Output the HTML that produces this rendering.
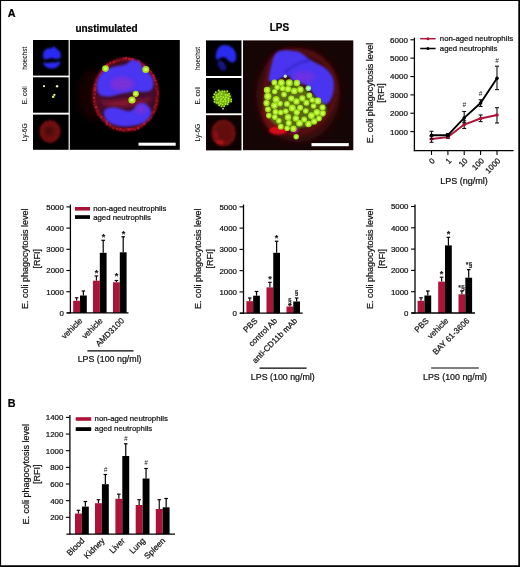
<!DOCTYPE html>
<html><head><meta charset="utf-8"><title>Figure</title>
<style>
html,body{margin:0;padding:0;background:#fff;}
body{width:520px;height:567px;overflow:hidden;}
svg{display:block;font-family:"Liberation Sans",Arial,Helvetica,sans-serif;}
</style></head><body>
<svg width="520" height="567" viewBox="0 0 520 567">
<defs>
<filter id="b1" x="-30%" y="-30%" width="160%" height="160%"><feGaussianBlur stdDeviation="1"/></filter>
<filter id="b2" x="-30%" y="-30%" width="160%" height="160%"><feGaussianBlur stdDeviation="2"/></filter>
<filter id="b3" x="-30%" y="-30%" width="160%" height="160%"><feGaussianBlur stdDeviation="3"/></filter>
<filter id="b05" x="-30%" y="-30%" width="160%" height="160%"><feGaussianBlur stdDeviation="0.6"/></filter>
<clipPath id="cm1"><rect x="69.8" y="40" width="110" height="109.8"/></clipPath>
<clipPath id="cm2"><rect x="243" y="40.4" width="110.3" height="109.8"/></clipPath>
</defs>
<rect x="0" y="0" width="520" height="567" fill="#fff"/>

<text x="7.8" y="17" font-size="10.8" text-anchor="start" font-weight="bold" fill="#000" stroke="#000" stroke-width="0.22">A</text>
<text x="7.8" y="406.6" font-size="10.8" text-anchor="start" font-weight="bold" fill="#000" stroke="#000" stroke-width="0.22">B</text>
<text x="106.5" y="31.5" font-size="10" text-anchor="middle" font-weight="bold" fill="#000" stroke="#000" stroke-width="0.22">unstimulated</text>
<text x="279.5" y="31.4" font-size="10" text-anchor="middle" font-weight="bold" fill="#000" stroke="#000" stroke-width="0.22">LPS</text>
<g id="micro1">
<rect x="33.00" y="40.00" width="35.60" height="35.60" fill="#000"/>
<rect x="33.00" y="77.30" width="35.60" height="35.40" fill="#000"/>
<rect x="33.00" y="114.60" width="35.60" height="35.20" fill="#000"/>
<rect x="69.80" y="40.00" width="110.00" height="109.80" fill="#000"/>
<g filter="url(#b1)">
<path d="M43 56 C43 50 47 47.5 51 48.5 C53 46 56 46.5 56.5 49 C60 50 61.5 54 60.5 58 C57 60 54 58.5 52 58 C49 58.5 46 60 43.5 59 Z" fill="#2a2cf5"/>
<path d="M43.5 62 C46 63.5 50 63 52 62 C54 63.5 57 62 60 61 C61 65 57 68.5 52 68.5 C47 68.5 43 66 43.5 62 Z" fill="#2a2cf5"/>
</g>
<g filter="url(#b05)" fill="#e8f5a0">
<circle cx="44" cy="86.2" r="1.1"/><circle cx="57.1" cy="86.3" r="1.2"/><circle cx="53.2" cy="96.8" r="1.3" fill="#d8f060"/><circle cx="54.4" cy="94.8" r="1.1"/>
</g>
<g filter="url(#b1)">
<ellipse cx="50" cy="131.6" rx="10.5" ry="11.3" fill="#6a0b10"/>
<ellipse cx="50" cy="131.6" rx="8.5" ry="9.3" fill="none" stroke="#8a1218" stroke-width="2.5" stroke-dasharray="2 2.5"/>
<ellipse cx="49" cy="131" rx="4" ry="4.5" fill="#4a080b"/>
</g>
<g clip-path="url(#cm1)">
<ellipse cx="92" cy="95" rx="14" ry="26" fill="#190405" filter="url(#b3)"/>
<ellipse cx="125.8" cy="94.6" rx="31.5" ry="35" fill="#420b2e" filter="url(#b2)"/>
<ellipse cx="125.8" cy="94.6" rx="31.7" ry="35.3" fill="none" stroke="#7a0e18" stroke-width="3.6" filter="url(#b1)"/>
<g filter="url(#b05)">
<circle cx="157.6" cy="94.0" r="1.2" fill="#8a0e1c"/>
<circle cx="156.5" cy="98.2" r="0.9" fill="#8a0e1c"/>
<circle cx="156.5" cy="100.9" r="1.6" fill="#8a0e1c"/>
<circle cx="156.2" cy="105.0" r="1.2" fill="#9a1220"/>
<circle cx="154.6" cy="107.3" r="1.5" fill="#8a0e1c"/>
<circle cx="153.8" cy="111.9" r="0.9" fill="#b01626"/>
<circle cx="151.6" cy="113.3" r="1.5" fill="#8a0e1c"/>
<circle cx="150.8" cy="117.7" r="1.2" fill="#8a0e1c"/>
<circle cx="148.8" cy="119.8" r="1.2" fill="#9a1220"/>
<circle cx="144.9" cy="121.8" r="1.0" fill="#9a1220"/>
<circle cx="144.0" cy="123.9" r="1.4" fill="#b81828"/>
<circle cx="141.2" cy="126.2" r="1.3" fill="#8a0e1c"/>
<circle cx="138.1" cy="128.0" r="1.4" fill="#b01626"/>
<circle cx="134.6" cy="129.5" r="1.4" fill="#9a1220"/>
<circle cx="131.5" cy="129.0" r="1.3" fill="#b01626"/>
<circle cx="128.5" cy="129.2" r="1.5" fill="#b81828"/>
<circle cx="126.2" cy="129.0" r="1.5" fill="#8a0e1c"/>
<circle cx="123.4" cy="130.4" r="1.2" fill="#9a1220"/>
<circle cx="120.5" cy="129.3" r="1.2" fill="#b01626"/>
<circle cx="117.4" cy="128.9" r="0.9" fill="#b81828"/>
<circle cx="113.3" cy="128.0" r="1.1" fill="#9a1220"/>
<circle cx="110.2" cy="124.9" r="1.0" fill="#b01626"/>
<circle cx="106.9" cy="124.2" r="1.1" fill="#b81828"/>
<circle cx="106.8" cy="121.6" r="1.5" fill="#b81828"/>
<circle cx="104.1" cy="119.3" r="1.5" fill="#8a0e1c"/>
<circle cx="101.3" cy="117.1" r="1.4" fill="#b01626"/>
<circle cx="98.6" cy="114.5" r="1.3" fill="#8a0e1c"/>
<circle cx="97.3" cy="111.2" r="1.6" fill="#8a0e1c"/>
<circle cx="96.1" cy="107.2" r="1.3" fill="#b01626"/>
<circle cx="94.4" cy="104.5" r="1.1" fill="#8a0e1c"/>
<circle cx="94.4" cy="101.3" r="0.9" fill="#b81828"/>
<circle cx="93.9" cy="98.2" r="1.1" fill="#b81828"/>
<circle cx="95.1" cy="94.1" r="0.9" fill="#b01626"/>
<circle cx="94.8" cy="90.2" r="1.2" fill="#b81828"/>
<circle cx="95.2" cy="88.5" r="1.4" fill="#b81828"/>
<circle cx="95.6" cy="84.8" r="1.4" fill="#b01626"/>
<circle cx="96.5" cy="80.0" r="1.0" fill="#9a1220"/>
<circle cx="98.4" cy="77.9" r="1.1" fill="#8a0e1c"/>
<circle cx="100.3" cy="75.2" r="1.3" fill="#b81828"/>
<circle cx="101.9" cy="72.3" r="1.5" fill="#9a1220"/>
<circle cx="102.5" cy="69.9" r="1.1" fill="#8a0e1c"/>
<circle cx="105.0" cy="67.2" r="0.9" fill="#9a1220"/>
<circle cx="107.5" cy="64.9" r="1.3" fill="#b81828"/>
<circle cx="110.3" cy="63.1" r="1.0" fill="#b81828"/>
<circle cx="113.9" cy="62.1" r="1.3" fill="#b81828"/>
<circle cx="116.5" cy="60.6" r="1.1" fill="#8a0e1c"/>
<circle cx="118.8" cy="60.4" r="1.0" fill="#8a0e1c"/>
<circle cx="123.5" cy="58.6" r="1.6" fill="#8a0e1c"/>
<circle cx="125.9" cy="58.3" r="1.4" fill="#b01626"/>
<circle cx="129.4" cy="58.9" r="1.4" fill="#b81828"/>
<circle cx="132.2" cy="59.2" r="1.5" fill="#b81828"/>
<circle cx="134.2" cy="61.1" r="0.9" fill="#9a1220"/>
<circle cx="138.9" cy="61.6" r="1.3" fill="#b01626"/>
<circle cx="140.4" cy="64.1" r="1.3" fill="#9a1220"/>
<circle cx="143.7" cy="65.4" r="1.2" fill="#b01626"/>
<circle cx="145.4" cy="67.5" r="1.5" fill="#8a0e1c"/>
<circle cx="148.0" cy="70.7" r="1.1" fill="#b01626"/>
<circle cx="150.8" cy="71.9" r="1.0" fill="#b81828"/>
<circle cx="153.1" cy="75.4" r="1.5" fill="#b01626"/>
<circle cx="153.9" cy="77.9" r="1.2" fill="#b81828"/>
<circle cx="155.1" cy="80.5" r="1.3" fill="#b01626"/>
<circle cx="156.6" cy="84.1" r="0.9" fill="#b01626"/>
<circle cx="156.1" cy="88.4" r="0.9" fill="#8a0e1c"/>
<circle cx="158.1" cy="92.1" r="1.0" fill="#8a0e1c"/>
</g>
<path d="M98 99 C104 103 120 100 131 98 C138 100 146 100 152 96 C150 104 140 104 130 106 C118 108 104 108 98 99 Z" fill="#8a1230" filter="url(#b2)"/>
<g filter="url(#b1)">
<path d="M96.8 88 C96 78 102 71 109 68 C116 66 122 66 127 64 C129 59 137 58.5 140 63 C143 68 150 72 152.8 79 C154.5 84 153.5 89 150 91 C144 93 138 91 133 91.5 C128 93 124 92.5 120 94 C113 96.5 106 97.5 101 95.5 C98 94 97 91 96.8 88 Z" fill="#4a34f2"/>
<path d="M104.2 111 C106 107.5 112 107 117 108 C123 109 127 112.5 131 111 C135 109 137 103 142 103 C147 103.5 151.5 108 151 113 C150 119 144 123.5 137 125 C129 127 119 127 112 124 C106 121 103 116 104.2 111 Z" fill="#4a34f2"/>
</g>
<ellipse cx="122" cy="84" rx="12" ry="7" fill="#8a2fd0" opacity="0.75" filter="url(#b2)"/>
<ellipse cx="141" cy="109" rx="5" ry="5" fill="#8a2fd0" opacity="0.7" filter="url(#b2)"/>
<g filter="url(#b05)">
<circle cx="105.5" cy="68.6" r="3.3" fill="#a6e01e"/><circle cx="105.5" cy="68.6" r="1.65" fill="#d6ff58"/>
<circle cx="145.8" cy="69.5" r="3.5" fill="#a6e01e"/><circle cx="145.8" cy="69.5" r="1.75" fill="#d6ff58"/>
<circle cx="135.8" cy="93.8" r="3.1" fill="#a6e01e"/><circle cx="135.8" cy="93.8" r="1.55" fill="#d6ff58"/>
<circle cx="132" cy="100" r="3.6" fill="#a6e01e"/><circle cx="132" cy="100" r="1.80" fill="#d6ff58"/>
</g>
</g>
<rect x="138.50" y="142.70" width="37.20" height="3.00" fill="#fff"/>
</g>
<text x="27" y="58.2" font-size="6.6" text-anchor="middle" font-weight="normal" fill="#111" stroke="#111" stroke-width="0.08" transform="rotate(-90 27 58.2)">hoechst</text>
<text x="199.8" y="58.5" font-size="6.6" text-anchor="middle" font-weight="normal" fill="#111" stroke="#111" stroke-width="0.08" transform="rotate(-90 199.8 58.5)">hoechst</text>
<text x="27" y="95.2" font-size="6.6" text-anchor="middle" font-weight="normal" fill="#111" stroke="#111" stroke-width="0.08" transform="rotate(-90 27 95.2)">E. coli</text>
<text x="199.8" y="95.5" font-size="6.6" text-anchor="middle" font-weight="normal" fill="#111" stroke="#111" stroke-width="0.08" transform="rotate(-90 199.8 95.5)">E. coli</text>
<text x="27" y="132.3" font-size="6.6" text-anchor="middle" font-weight="normal" fill="#111" stroke="#111" stroke-width="0.08" transform="rotate(-90 27 132.3)">Ly-6G</text>
<text x="199.8" y="132.60000000000002" font-size="6.6" text-anchor="middle" font-weight="normal" fill="#111" stroke="#111" stroke-width="0.08" transform="rotate(-90 199.8 132.60000000000002)">Ly-6G</text>
<g id="micro2">
<rect x="206.00" y="40.40" width="35.50" height="35.60" fill="#000"/>
<rect x="206.00" y="78.00" width="35.50" height="35.30" fill="#000"/>
<rect x="206.00" y="115.20" width="35.50" height="35.20" fill="#0c0202"/>
<rect x="243.00" y="40.40" width="110.30" height="109.80" fill="#160505"/>
<g filter="url(#b1)">
<path d="M217 62 C221 66 226 70 224 72 C220 70 217 66 217 62 Z" fill="#10127a"/>
<path d="M215.8 58.5 C215.3 52 218 46.5 222 45.3 C226 44.3 231.5 45.5 234.3 50 C236.8 54 236.8 59 234.5 62 C231 63.5 228.5 61 226.5 58.5 C224.5 56.5 222 57 219.5 58.5 C218 59.5 216.3 59.8 215.8 58.5 Z" fill="#2a2cf0"/>
<path d="M218 60 C221 60 224 62 226 66 C227 69 225 71 223 69 C220 66 218 63 218 60 Z" fill="#14168a"/>
</g>
<ellipse cx="222.3" cy="98.2" rx="8.6" ry="7.5" fill="#6fae18" filter="url(#b1)"/>
<g fill="#b4f02a">
<circle cx="220.6" cy="101.1" r="0.95"/>
<circle cx="220.8" cy="96.4" r="0.95"/>
<circle cx="216.6" cy="97.1" r="0.95"/>
<circle cx="228.7" cy="100.3" r="0.95"/>
<circle cx="224.9" cy="99.3" r="0.95"/>
<circle cx="214.5" cy="101.7" r="0.95"/>
<circle cx="215.8" cy="92.3" r="0.95"/>
<circle cx="225.6" cy="94.7" r="0.95"/>
<circle cx="219.2" cy="105.3" r="0.95"/>
<circle cx="225.4" cy="104.0" r="0.95"/>
<circle cx="218.5" cy="94.3" r="0.95"/>
<circle cx="217.3" cy="99.5" r="0.95"/>
<circle cx="224.5" cy="91.4" r="0.95"/>
<circle cx="222.6" cy="104.6" r="0.95"/>
<circle cx="213.4" cy="97.0" r="0.95"/>
<circle cx="221.6" cy="93.7" r="0.95"/>
<circle cx="219.8" cy="92.1" r="0.95"/>
<circle cx="227.3" cy="91.3" r="0.95"/>
<circle cx="214.6" cy="99.3" r="0.95"/>
<circle cx="216.4" cy="102.7" r="0.95"/>
<circle cx="225.6" cy="101.2" r="0.95"/>
<circle cx="225.9" cy="97.3" r="0.95"/>
<circle cx="228.5" cy="98.3" r="0.95"/>
<circle cx="229.9" cy="96.2" r="0.95"/>
<circle cx="229.1" cy="93.8" r="0.95"/>
<circle cx="228.4" cy="102.3" r="0.95"/>
<circle cx="223.3" cy="101.5" r="0.95"/>
<circle cx="231.2" cy="99.5" r="0.95"/>
<circle cx="218.7" cy="97.6" r="0.95"/>
<circle cx="221.3" cy="99.3" r="0.95"/>
<circle cx="227.6" cy="104.3" r="0.95"/>
<circle cx="218.4" cy="102.7" r="0.95"/>
<circle cx="214.4" cy="94.2" r="0.95"/>
<circle cx="227.7" cy="95.3" r="0.95"/>
<circle cx="224.1" cy="106.2" r="0.95"/>
<circle cx="231.1" cy="101.5" r="0.95"/>
<circle cx="218.7" cy="90.5" r="0.95"/>
<circle cx="220.6" cy="103.7" r="0.95"/>
<circle cx="221.5" cy="106.4" r="0.95"/>
<circle cx="216.3" cy="95.1" r="0.95"/>
<circle cx="222.3" cy="91.4" r="0.95"/>
<circle cx="223.3" cy="97.3" r="0.95"/>
<circle cx="223" cy="108.7" r="0.9" fill="#c8e8a0"/>
</g>
<g filter="url(#b1)">
<ellipse cx="223.5" cy="133" rx="12.3" ry="13.6" fill="#620b0d"/>
<ellipse cx="223.5" cy="133" rx="10" ry="11.3" fill="none" stroke="#7c1012" stroke-width="2.4" stroke-dasharray="3 2.5"/>
<ellipse cx="216" cy="136" rx="2.2" ry="5" fill="#8c1014"/>
<ellipse cx="219.8" cy="142.3" rx="4.2" ry="2.2" fill="#a81418"/>
</g>
<g clip-path="url(#cm2)">
<ellipse cx="298" cy="95" rx="42" ry="47" fill="#3a0a0c" filter="url(#b3)"/>
<path d="M266 84 C262 100 266 120 276 128 C288 136 304 134 316 126 C328 118 336 104 336 88 C336 70 322 56 306 52 C290 48 274 52 270 62 Z" fill="none" stroke="#8a1018" stroke-width="3.5" opacity="0.6" filter="url(#b2)"/>
<ellipse cx="272" cy="118" rx="9" ry="16" fill="#7a0c14" opacity="0.8" filter="url(#b2)" transform="rotate(-25 272 118)"/>
<ellipse cx="278" cy="130.5" rx="9" ry="4" fill="#d8101c" filter="url(#b1)"/>
<ellipse cx="294.5" cy="129.5" rx="4" ry="3" fill="#a018b0" filter="url(#b1)"/>
<path d="M268.5 80 C270 70 272 60 274.5 55 C277 50.5 283 50 290 50.5 C296 51 301 52 304 55 C308 59 314 62 320 65 C328 69 333 75 333.8 82 C334.5 89 333 96 330 101 C327.5 105 323.5 105.5 320 102 C315 98 312 90 307 85.5 C303 83 298 83.5 294 82 C291 80 290.5 76 288 75.5 C284 75.5 281 78 277 80.5 C273 82.5 269.5 83 268.5 80 Z" fill="#4a34f0" filter="url(#b1)"/>
<ellipse cx="304" cy="77" rx="11" ry="5.5" fill="#7a2fe0" opacity="0.75" filter="url(#b2)"/>
<path d="M284.5 73 C290 67.5 297 63.5 303 62 C306 61.3 308 60.5 309 59.5" fill="none" stroke="#2a1aa8" stroke-width="1.8" opacity="0.7" filter="url(#b1)"/>
<path d="M264 100 C264 90 270 83 280 81.5 C290 80 300 84 306 90 C312 96 320 100 326 106 C329 112 322 120 314 124 C304 129 288 130 278 126 C268 121 264 110 264 100 Z" fill="#5a6814" filter="url(#b1)"/>
<g filter="url(#b05)">
<circle cx="292.3" cy="108.1" r="3.5" fill="#9fe01c"/><circle cx="292.3" cy="108.1" r="1.9" fill="#ccff50"/>
<circle cx="274.4" cy="105.6" r="3.3" fill="#9fe01c"/><circle cx="274.4" cy="105.6" r="1.8" fill="#ccff50"/>
<circle cx="305.8" cy="111.0" r="2.8" fill="#9fe01c"/><circle cx="305.8" cy="111.0" r="1.6" fill="#ccff50"/>
<circle cx="274.7" cy="91.6" r="2.7" fill="#9fe01c"/><circle cx="274.7" cy="91.6" r="1.5" fill="#ccff50"/>
<circle cx="296.8" cy="112.3" r="3.1" fill="#9fe01c"/><circle cx="296.8" cy="112.3" r="1.7" fill="#ccff50"/>
<circle cx="306.4" cy="102.8" r="3.0" fill="#9fe01c"/><circle cx="306.4" cy="102.8" r="1.6" fill="#ccff50"/>
<circle cx="309.4" cy="95.4" r="2.9" fill="#9fe01c"/><circle cx="309.4" cy="95.4" r="1.6" fill="#ccff50"/>
<circle cx="281.4" cy="82.7" r="3.4" fill="#9fe01c"/><circle cx="281.4" cy="82.7" r="1.9" fill="#ccff50"/>
<circle cx="288.8" cy="123.0" r="3.0" fill="#9fe01c"/><circle cx="288.8" cy="123.0" r="1.7" fill="#ccff50"/>
<circle cx="304.2" cy="119.5" r="2.9" fill="#9fe01c"/><circle cx="304.2" cy="119.5" r="1.6" fill="#ccff50"/>
<circle cx="267.8" cy="96.3" r="3.6" fill="#9fe01c"/><circle cx="267.8" cy="96.3" r="2.0" fill="#ccff50"/>
<circle cx="274.8" cy="117.1" r="2.8" fill="#9fe01c"/><circle cx="274.8" cy="117.1" r="1.5" fill="#ccff50"/>
<circle cx="276.1" cy="99.5" r="3.5" fill="#9fe01c"/><circle cx="276.1" cy="99.5" r="1.9" fill="#ccff50"/>
<circle cx="284.0" cy="94.4" r="2.8" fill="#9fe01c"/><circle cx="284.0" cy="94.4" r="1.5" fill="#ccff50"/>
<circle cx="268.0" cy="109.3" r="2.9" fill="#9fe01c"/><circle cx="268.0" cy="109.3" r="1.6" fill="#ccff50"/>
<circle cx="302.3" cy="98.3" r="3.1" fill="#9fe01c"/><circle cx="302.3" cy="98.3" r="1.7" fill="#ccff50"/>
<circle cx="299.5" cy="123.3" r="3.3" fill="#9fe01c"/><circle cx="299.5" cy="123.3" r="1.8" fill="#ccff50"/>
<circle cx="280.8" cy="126.7" r="2.9" fill="#9fe01c"/><circle cx="280.8" cy="126.7" r="1.6" fill="#ccff50"/>
<circle cx="311.4" cy="115.6" r="3.4" fill="#9fe01c"/><circle cx="311.4" cy="115.6" r="1.9" fill="#ccff50"/>
<circle cx="288.0" cy="117.2" r="3.2" fill="#9fe01c"/><circle cx="288.0" cy="117.2" r="1.8" fill="#ccff50"/>
<circle cx="294.2" cy="91.0" r="3.3" fill="#9fe01c"/><circle cx="294.2" cy="91.0" r="1.8" fill="#ccff50"/>
<circle cx="322.7" cy="113.3" r="3.1" fill="#9fe01c"/><circle cx="322.7" cy="113.3" r="1.7" fill="#ccff50"/>
<circle cx="316.8" cy="112.4" r="3.3" fill="#9fe01c"/><circle cx="316.8" cy="112.4" r="1.8" fill="#ccff50"/>
<circle cx="300.4" cy="89.5" r="3.2" fill="#9fe01c"/><circle cx="300.4" cy="89.5" r="1.8" fill="#ccff50"/>
<circle cx="280.0" cy="103.6" r="2.8" fill="#9fe01c"/><circle cx="280.0" cy="103.6" r="1.5" fill="#ccff50"/>
<circle cx="285.8" cy="111.2" r="2.8" fill="#9fe01c"/><circle cx="285.8" cy="111.2" r="1.5" fill="#ccff50"/>
<circle cx="291.3" cy="98.5" r="3.1" fill="#9fe01c"/><circle cx="291.3" cy="98.5" r="1.7" fill="#ccff50"/>
<circle cx="317.8" cy="100.9" r="3.4" fill="#9fe01c"/><circle cx="317.8" cy="100.9" r="1.9" fill="#ccff50"/>
<circle cx="295.9" cy="118.4" r="3.2" fill="#9fe01c"/><circle cx="295.9" cy="118.4" r="1.7" fill="#ccff50"/>
<circle cx="296.5" cy="101.4" r="3.2" fill="#9fe01c"/><circle cx="296.5" cy="101.4" r="1.8" fill="#ccff50"/>
<circle cx="314.1" cy="121.4" r="3.1" fill="#9fe01c"/><circle cx="314.1" cy="121.4" r="1.7" fill="#ccff50"/>
<circle cx="287.0" cy="103.9" r="2.9" fill="#9fe01c"/><circle cx="287.0" cy="103.9" r="1.6" fill="#ccff50"/>
<circle cx="267.1" cy="90.1" r="3.3" fill="#9fe01c"/><circle cx="267.1" cy="90.1" r="1.8" fill="#ccff50"/>
<circle cx="288.0" cy="89.1" r="3.2" fill="#9fe01c"/><circle cx="288.0" cy="89.1" r="1.8" fill="#ccff50"/>
<circle cx="293.4" cy="128.7" r="3.2" fill="#9fe01c"/><circle cx="293.4" cy="128.7" r="1.8" fill="#ccff50"/>
<circle cx="277.2" cy="87.2" r="2.8" fill="#9fe01c"/><circle cx="277.2" cy="87.2" r="1.5" fill="#ccff50"/>
<circle cx="289.3" cy="82.8" r="3.5" fill="#9fe01c"/><circle cx="289.3" cy="82.8" r="1.9" fill="#ccff50"/>
<circle cx="322.5" cy="107.5" r="3.0" fill="#9fe01c"/><circle cx="322.5" cy="107.5" r="1.7" fill="#ccff50"/>
<circle cx="275.5" cy="111.9" r="2.9" fill="#9fe01c"/><circle cx="275.5" cy="111.9" r="1.6" fill="#ccff50"/>
<circle cx="278.8" cy="120.8" r="2.8" fill="#9fe01c"/><circle cx="278.8" cy="120.8" r="1.5" fill="#ccff50"/>
<circle cx="308.5" cy="124.0" r="3.2" fill="#9fe01c"/><circle cx="308.5" cy="124.0" r="1.8" fill="#ccff50"/>
<circle cx="313.6" cy="106.0" r="2.7" fill="#9fe01c"/><circle cx="313.6" cy="106.0" r="1.5" fill="#ccff50"/>
<circle cx="268.8" cy="115.6" r="2.8" fill="#9fe01c"/><circle cx="268.8" cy="115.6" r="1.5" fill="#ccff50"/>
<circle cx="280.7" cy="112.5" r="2.8" fill="#9fe01c"/><circle cx="280.7" cy="112.5" r="1.5" fill="#ccff50"/>
<circle cx="266.5" cy="103.0" r="3.1" fill="#9fe01c"/><circle cx="266.5" cy="103.0" r="1.7" fill="#ccff50"/>
<circle cx="300.1" cy="107.7" r="3.0" fill="#9fe01c"/><circle cx="300.1" cy="107.7" r="1.6" fill="#ccff50"/>
<circle cx="296.9" cy="83.0" r="3.2" fill="#9fe01c"/><circle cx="296.9" cy="83.0" r="1.7" fill="#ccff50"/>
<circle cx="282.6" cy="88.5" r="2.8" fill="#9fe01c"/><circle cx="282.6" cy="88.5" r="1.5" fill="#ccff50"/>
<circle cx="287.1" cy="128.3" r="2.8" fill="#9fe01c"/><circle cx="287.1" cy="128.3" r="1.6" fill="#ccff50"/>
<circle cx="274.4" cy="82.5" r="2.9" fill="#9fe01c"/><circle cx="274.4" cy="82.5" r="1.6" fill="#ccff50"/>
<circle cx="319.0" cy="118.4" r="2.8" fill="#9fe01c"/><circle cx="319.0" cy="118.4" r="1.6" fill="#ccff50"/>
<circle cx="312.2" cy="100.0" r="2.8" fill="#9fe01c"/><circle cx="312.2" cy="100.0" r="1.5" fill="#ccff50"/>
<circle cx="296.2" cy="136.8" r="2.7" fill="#9fe01c"/><circle cx="296.2" cy="136.8" r="1.4" fill="#ccff50"/>
<circle cx="308.3" cy="88.3" r="2.8" fill="#7fe08a"/><circle cx="308.3" cy="88.3" r="1.4" fill="#c8ffd0"/>
<circle cx="285.3" cy="76.3" r="1.7" fill="#b8e8c0"/>
</g>
</g>
<rect x="311.50" y="143.10" width="37.30" height="3.10" fill="#fff"/>
</g>
<g id="linechart">
<text x="372.9" y="93" font-size="9" text-anchor="middle" font-weight="normal" fill="#111" stroke="#111" stroke-width="0.22" transform="rotate(-90 372.9 93)">E. coli phagocytosis level</text>
<text x="383.9" y="93" font-size="9" text-anchor="middle" font-weight="normal" fill="#111" stroke="#111" stroke-width="0.22" transform="rotate(-90 383.9 93)">[RFI]</text>
<line x1="414.4" y1="37.7" x2="414.4" y2="151.2" stroke="#000" stroke-width="1.3" stroke-linecap="butt"/>
<line x1="413.79999999999995" y1="150.6" x2="513.6" y2="150.6" stroke="#000" stroke-width="1.3" stroke-linecap="butt"/>
<line x1="410.4" y1="131.6" x2="414.4" y2="131.6" stroke="#000" stroke-width="1.1" stroke-linecap="butt"/>
<text x="407.9" y="134.5" font-size="8" text-anchor="end" font-weight="normal" fill="#111" stroke="#111" stroke-width="0.22">1000</text>
<line x1="410.4" y1="113.24" x2="414.4" y2="113.24" stroke="#000" stroke-width="1.1" stroke-linecap="butt"/>
<text x="407.9" y="116.14" font-size="8" text-anchor="end" font-weight="normal" fill="#111" stroke="#111" stroke-width="0.22">2000</text>
<line x1="410.4" y1="94.88" x2="414.4" y2="94.88" stroke="#000" stroke-width="1.1" stroke-linecap="butt"/>
<text x="407.9" y="97.78" font-size="8" text-anchor="end" font-weight="normal" fill="#111" stroke="#111" stroke-width="0.22">3000</text>
<line x1="410.4" y1="76.52" x2="414.4" y2="76.52" stroke="#000" stroke-width="1.1" stroke-linecap="butt"/>
<text x="407.9" y="79.42" font-size="8" text-anchor="end" font-weight="normal" fill="#111" stroke="#111" stroke-width="0.22">4000</text>
<line x1="410.4" y1="58.16" x2="414.4" y2="58.16" stroke="#000" stroke-width="1.1" stroke-linecap="butt"/>
<text x="407.9" y="61.059999999999995" font-size="8" text-anchor="end" font-weight="normal" fill="#111" stroke="#111" stroke-width="0.22">5000</text>
<line x1="410.4" y1="39.8" x2="414.4" y2="39.8" stroke="#000" stroke-width="1.1" stroke-linecap="butt"/>
<text x="407.9" y="42.699999999999996" font-size="8" text-anchor="end" font-weight="normal" fill="#111" stroke="#111" stroke-width="0.22">6000</text>
<line x1="431.5" y1="150.6" x2="431.5" y2="154.9" stroke="#000" stroke-width="1.1" stroke-linecap="butt"/>
<text x="435.5" y="161.29999999999998" font-size="8" text-anchor="end" font-weight="normal" fill="#111" stroke="#111" stroke-width="0.22" transform="rotate(-45 435.5 161.29999999999998)">0</text>
<line x1="447.9" y1="150.6" x2="447.9" y2="154.9" stroke="#000" stroke-width="1.1" stroke-linecap="butt"/>
<text x="451.9" y="161.29999999999998" font-size="8" text-anchor="end" font-weight="normal" fill="#111" stroke="#111" stroke-width="0.22" transform="rotate(-45 451.9 161.29999999999998)">1</text>
<line x1="464.2" y1="150.6" x2="464.2" y2="154.9" stroke="#000" stroke-width="1.1" stroke-linecap="butt"/>
<text x="468.2" y="161.29999999999998" font-size="8" text-anchor="end" font-weight="normal" fill="#111" stroke="#111" stroke-width="0.22" transform="rotate(-45 468.2 161.29999999999998)">10</text>
<line x1="480.6" y1="150.6" x2="480.6" y2="154.9" stroke="#000" stroke-width="1.1" stroke-linecap="butt"/>
<text x="484.6" y="161.29999999999998" font-size="8" text-anchor="end" font-weight="normal" fill="#111" stroke="#111" stroke-width="0.22" transform="rotate(-45 484.6 161.29999999999998)">100</text>
<line x1="497" y1="150.6" x2="497" y2="154.9" stroke="#000" stroke-width="1.1" stroke-linecap="butt"/>
<text x="501" y="161.29999999999998" font-size="8" text-anchor="end" font-weight="normal" fill="#111" stroke="#111" stroke-width="0.22" transform="rotate(-45 501 161.29999999999998)">1000</text>
<line x1="431.5" y1="136.2" x2="431.5" y2="142.3" stroke="#111" stroke-width="1.1" stroke-linecap="butt"/>
<line x1="429.5" y1="136.2" x2="433.5" y2="136.2" stroke="#111" stroke-width="1.1" stroke-linecap="butt"/>
<line x1="429.5" y1="142.3" x2="433.5" y2="142.3" stroke="#111" stroke-width="1.1" stroke-linecap="butt"/>
<line x1="447.9" y1="135.8" x2="447.9" y2="138.4" stroke="#111" stroke-width="1.1" stroke-linecap="butt"/>
<line x1="445.9" y1="135.8" x2="449.9" y2="135.8" stroke="#111" stroke-width="1.1" stroke-linecap="butt"/>
<line x1="445.9" y1="138.4" x2="449.9" y2="138.4" stroke="#111" stroke-width="1.1" stroke-linecap="butt"/>
<line x1="464.2" y1="120.8" x2="464.2" y2="128.5" stroke="#111" stroke-width="1.1" stroke-linecap="butt"/>
<line x1="462.2" y1="120.8" x2="466.2" y2="120.8" stroke="#111" stroke-width="1.1" stroke-linecap="butt"/>
<line x1="462.2" y1="128.5" x2="466.2" y2="128.5" stroke="#111" stroke-width="1.1" stroke-linecap="butt"/>
<line x1="480.6" y1="115" x2="480.6" y2="121.6" stroke="#111" stroke-width="1.1" stroke-linecap="butt"/>
<line x1="478.6" y1="115" x2="482.6" y2="115" stroke="#111" stroke-width="1.1" stroke-linecap="butt"/>
<line x1="478.6" y1="121.6" x2="482.6" y2="121.6" stroke="#111" stroke-width="1.1" stroke-linecap="butt"/>
<line x1="497" y1="107.7" x2="497" y2="123" stroke="#111" stroke-width="1.1" stroke-linecap="butt"/>
<line x1="495.0" y1="107.7" x2="499.0" y2="107.7" stroke="#111" stroke-width="1.1" stroke-linecap="butt"/>
<line x1="495.0" y1="123" x2="499.0" y2="123" stroke="#111" stroke-width="1.1" stroke-linecap="butt"/>
<polyline fill="none" stroke="#ad1338" stroke-width="1.9" stroke-linejoin="round" points="431.5,139 447.9,137.1 464.2,124.6 480.6,118.5 497,115"/>
<circle cx="431.5" cy="139" r="1.8" fill="#ad1338"/>
<circle cx="447.9" cy="137.1" r="1.8" fill="#ad1338"/>
<circle cx="464.2" cy="124.6" r="1.8" fill="#ad1338"/>
<circle cx="480.6" cy="118.5" r="1.8" fill="#ad1338"/>
<circle cx="497" cy="115" r="1.8" fill="#ad1338"/>
<line x1="431.5" y1="131.3" x2="431.5" y2="139" stroke="#111" stroke-width="1.1" stroke-linecap="butt"/>
<line x1="429.5" y1="131.3" x2="433.5" y2="131.3" stroke="#111" stroke-width="1.1" stroke-linecap="butt"/>
<line x1="429.5" y1="139" x2="433.5" y2="139" stroke="#111" stroke-width="1.1" stroke-linecap="butt"/>
<line x1="447.9" y1="133.6" x2="447.9" y2="136.8" stroke="#111" stroke-width="1.1" stroke-linecap="butt"/>
<line x1="445.9" y1="133.6" x2="449.9" y2="133.6" stroke="#111" stroke-width="1.1" stroke-linecap="butt"/>
<line x1="445.9" y1="136.8" x2="449.9" y2="136.8" stroke="#111" stroke-width="1.1" stroke-linecap="butt"/>
<line x1="464.2" y1="111.5" x2="464.2" y2="122.7" stroke="#111" stroke-width="1.1" stroke-linecap="butt"/>
<line x1="462.2" y1="111.5" x2="466.2" y2="111.5" stroke="#111" stroke-width="1.1" stroke-linecap="butt"/>
<line x1="462.2" y1="122.7" x2="466.2" y2="122.7" stroke="#111" stroke-width="1.1" stroke-linecap="butt"/>
<line x1="480.6" y1="99.8" x2="480.6" y2="106.5" stroke="#111" stroke-width="1.1" stroke-linecap="butt"/>
<line x1="478.6" y1="99.8" x2="482.6" y2="99.8" stroke="#111" stroke-width="1.1" stroke-linecap="butt"/>
<line x1="478.6" y1="106.5" x2="482.6" y2="106.5" stroke="#111" stroke-width="1.1" stroke-linecap="butt"/>
<line x1="497" y1="66.2" x2="497" y2="89.6" stroke="#111" stroke-width="1.1" stroke-linecap="butt"/>
<line x1="495.0" y1="66.2" x2="499.0" y2="66.2" stroke="#111" stroke-width="1.1" stroke-linecap="butt"/>
<line x1="495.0" y1="89.6" x2="499.0" y2="89.6" stroke="#111" stroke-width="1.1" stroke-linecap="butt"/>
<polyline fill="none" stroke="#000" stroke-width="1.9" stroke-linejoin="round" points="431.5,135.2 447.9,135.2 464.2,117.9 480.6,103 497,78.3"/>
<circle cx="431.5" cy="135.2" r="1.8" fill="#000"/>
<circle cx="447.9" cy="135.2" r="1.8" fill="#000"/>
<circle cx="464.2" cy="117.9" r="1.8" fill="#000"/>
<circle cx="480.6" cy="103" r="1.8" fill="#000"/>
<circle cx="497" cy="78.3" r="1.8" fill="#000"/>
<text x="464.2" y="106.6" font-size="6.4" text-anchor="middle" font-weight="normal" fill="#222" stroke="#222" stroke-width="0" font-style="italic">#</text>
<text x="480.6" y="95.6" font-size="6.4" text-anchor="middle" font-weight="normal" fill="#222" stroke="#222" stroke-width="0" font-style="italic">#</text>
<text x="497" y="62.6" font-size="6.4" text-anchor="middle" font-weight="normal" fill="#222" stroke="#222" stroke-width="0" font-style="italic">#</text>
<line x1="420.2" y1="38.7" x2="435.6" y2="38.7" stroke="#ad1338" stroke-width="1.5" stroke-linecap="butt"/>
<circle cx="427.9" cy="38.7" r="1.5" fill="#ad1338"/>
<line x1="420.2" y1="48.5" x2="435.6" y2="48.5" stroke="#000" stroke-width="1.5" stroke-linecap="butt"/>
<circle cx="427.9" cy="48.5" r="1.5" fill="#000"/>
<text x="439.8" y="40.9" font-size="7.8" text-anchor="start" font-weight="normal" fill="#111" stroke="#111" stroke-width="0.22">non-aged neutrophils</text>
<text x="439.8" y="50.5" font-size="7.8" text-anchor="start" font-weight="normal" fill="#111" stroke="#111" stroke-width="0.22">aged neutrophils</text>
<text x="464" y="183.6" font-size="9" text-anchor="middle" font-weight="normal" fill="#111" stroke="#111" stroke-width="0.22">LPS (ng/ml)</text>
</g>
<g id="bar1">
<text x="27.8" y="258.7" font-size="9" text-anchor="middle" font-weight="normal" fill="#111" stroke="#111" stroke-width="0.22" transform="rotate(-90 27.8 258.7)">E. coli phagocytosis level</text>
<text x="39.9" y="258.7" font-size="9" text-anchor="middle" font-weight="normal" fill="#111" stroke="#111" stroke-width="0.22" transform="rotate(-90 39.9 258.7)">[RFI]</text>
<line x1="76.60000000000001" y1="297.8" x2="76.60000000000001" y2="300.8" stroke="#1a0508" stroke-width="1.2" stroke-linecap="butt"/>
<line x1="74.80000000000001" y1="297.8" x2="78.4" y2="297.8" stroke="#1a0508" stroke-width="1.2" stroke-linecap="butt"/>
<rect x="73.20" y="300.80" width="6.80" height="12.10" fill="#ad1338"/>
<line x1="83.4" y1="291" x2="83.4" y2="295.5" stroke="#000" stroke-width="1.2" stroke-linecap="butt"/>
<line x1="81.60000000000001" y1="291" x2="85.2" y2="291" stroke="#000" stroke-width="1.2" stroke-linecap="butt"/>
<rect x="80.00" y="295.50" width="6.80" height="17.40" fill="#000"/>
<line x1="96.4" y1="275.9" x2="96.4" y2="280.7" stroke="#1a0508" stroke-width="1.2" stroke-linecap="butt"/>
<line x1="94.60000000000001" y1="275.9" x2="98.2" y2="275.9" stroke="#1a0508" stroke-width="1.2" stroke-linecap="butt"/>
<rect x="93.00" y="280.70" width="6.80" height="32.20" fill="#ad1338"/>
<line x1="103.2" y1="240.3" x2="103.2" y2="252.8" stroke="#000" stroke-width="1.2" stroke-linecap="butt"/>
<line x1="101.4" y1="240.3" x2="105.0" y2="240.3" stroke="#000" stroke-width="1.2" stroke-linecap="butt"/>
<rect x="99.80" y="252.80" width="6.80" height="60.10" fill="#000"/>
<line x1="116.4" y1="280.5" x2="116.4" y2="282.3" stroke="#1a0508" stroke-width="1.2" stroke-linecap="butt"/>
<line x1="114.60000000000001" y1="280.5" x2="118.2" y2="280.5" stroke="#1a0508" stroke-width="1.2" stroke-linecap="butt"/>
<rect x="113.00" y="282.30" width="6.80" height="30.60" fill="#ad1338"/>
<line x1="123.2" y1="236.8" x2="123.2" y2="252.3" stroke="#000" stroke-width="1.2" stroke-linecap="butt"/>
<line x1="121.4" y1="236.8" x2="125.0" y2="236.8" stroke="#000" stroke-width="1.2" stroke-linecap="butt"/>
<rect x="119.80" y="252.30" width="6.80" height="60.60" fill="#000"/>
<line x1="70.4" y1="204.6" x2="70.4" y2="313.5" stroke="#000" stroke-width="1.3" stroke-linecap="butt"/>
<line x1="66.9" y1="312.9" x2="128.5" y2="312.9" stroke="#000" stroke-width="1.3" stroke-linecap="butt"/>
<line x1="66.4" y1="206.89999999999998" x2="70.4" y2="206.89999999999998" stroke="#000" stroke-width="1.1" stroke-linecap="butt"/>
<text x="63.900000000000006" y="209.79999999999998" font-size="7.9" text-anchor="end" font-weight="normal" fill="#111" stroke="#111" stroke-width="0.22">5000</text>
<line x1="66.4" y1="228.09999999999997" x2="70.4" y2="228.09999999999997" stroke="#000" stroke-width="1.1" stroke-linecap="butt"/>
<text x="63.900000000000006" y="230.99999999999997" font-size="7.9" text-anchor="end" font-weight="normal" fill="#111" stroke="#111" stroke-width="0.22">4000</text>
<line x1="66.4" y1="249.29999999999998" x2="70.4" y2="249.29999999999998" stroke="#000" stroke-width="1.1" stroke-linecap="butt"/>
<text x="63.900000000000006" y="252.2" font-size="7.9" text-anchor="end" font-weight="normal" fill="#111" stroke="#111" stroke-width="0.22">3000</text>
<line x1="66.4" y1="270.5" x2="70.4" y2="270.5" stroke="#000" stroke-width="1.1" stroke-linecap="butt"/>
<text x="63.900000000000006" y="273.4" font-size="7.9" text-anchor="end" font-weight="normal" fill="#111" stroke="#111" stroke-width="0.22">2000</text>
<line x1="66.4" y1="291.7" x2="70.4" y2="291.7" stroke="#000" stroke-width="1.1" stroke-linecap="butt"/>
<text x="63.900000000000006" y="294.59999999999997" font-size="7.9" text-anchor="end" font-weight="normal" fill="#111" stroke="#111" stroke-width="0.22">1000</text>
<line x1="66.4" y1="312.9" x2="70.4" y2="312.9" stroke="#000" stroke-width="1.1" stroke-linecap="butt"/>
<text x="63.900000000000006" y="315.79999999999995" font-size="7.9" text-anchor="end" font-weight="normal" fill="#111" stroke="#111" stroke-width="0.22">0</text>
<text x="82.9" y="321.3" font-size="8.2" text-anchor="end" font-weight="normal" fill="#111" stroke="#111" stroke-width="0.22" transform="rotate(-45 82.9 321.3)">vehicle</text>
<text x="103.2" y="321.3" font-size="8.2" text-anchor="end" font-weight="normal" fill="#111" stroke="#111" stroke-width="0.22" transform="rotate(-45 103.2 321.3)">vehicle</text>
<text x="124.7" y="321.3" font-size="8.2" text-anchor="end" font-weight="normal" fill="#111" stroke="#111" stroke-width="0.22" transform="rotate(-45 124.7 321.3)">AMD3100</text>
<text x="96.5" y="275.5" font-size="9" text-anchor="middle" font-weight="bold" fill="#111" stroke="#111" stroke-width="0.1">*</text>
<text x="103.4" y="239.7" font-size="9" text-anchor="middle" font-weight="bold" fill="#111" stroke="#111" stroke-width="0.1">*</text>
<text x="116.5" y="279.4" font-size="9" text-anchor="middle" font-weight="bold" fill="#111" stroke="#111" stroke-width="0.1">*</text>
<text x="123.4" y="236.7" font-size="9" text-anchor="middle" font-weight="bold" fill="#111" stroke="#111" stroke-width="0.1">*</text>
<rect x="75.00" y="207.00" width="15.00" height="3.60" fill="#ad1338"/>
<rect x="75.00" y="215.20" width="15.00" height="3.70" fill="#000"/>
<text x="93.2" y="210.8" font-size="7.8" text-anchor="start" font-weight="normal" fill="#111" stroke="#111" stroke-width="0.22">non-aged neutrophils</text>
<text x="93.2" y="219.5" font-size="7.8" text-anchor="start" font-weight="normal" fill="#111" stroke="#111" stroke-width="0.22">aged neutrophils</text>
<line x1="87.4" y1="350.8" x2="133.5" y2="350.8" stroke="#000" stroke-width="1.2" stroke-linecap="butt"/>
<text x="109.6" y="361.9" font-size="8.85" text-anchor="middle" font-weight="normal" fill="#111" stroke="#111" stroke-width="0.22">LPS (100 ng/ml)</text>
</g>
<g id="bar2">
<text x="201.1" y="258.7" font-size="9" text-anchor="middle" font-weight="normal" fill="#111" stroke="#111" stroke-width="0.22" transform="rotate(-90 201.1 258.7)">E. coli phagocytosis level</text>
<text x="213.3" y="258.7" font-size="9" text-anchor="middle" font-weight="normal" fill="#111" stroke="#111" stroke-width="0.22" transform="rotate(-90 213.3 258.7)">[RFI]</text>
<line x1="249.775" y1="298" x2="249.775" y2="301.2" stroke="#1a0508" stroke-width="1.2" stroke-linecap="butt"/>
<line x1="247.975" y1="298" x2="251.57500000000002" y2="298" stroke="#1a0508" stroke-width="1.2" stroke-linecap="butt"/>
<rect x="246.40" y="301.20" width="6.75" height="12.00" fill="#ad1338"/>
<line x1="256.525" y1="291.5" x2="256.525" y2="295.7" stroke="#000" stroke-width="1.2" stroke-linecap="butt"/>
<line x1="254.72499999999997" y1="291.5" x2="258.325" y2="291.5" stroke="#000" stroke-width="1.2" stroke-linecap="butt"/>
<rect x="253.15" y="295.70" width="6.75" height="17.50" fill="#000"/>
<line x1="269.875" y1="282.3" x2="269.875" y2="287.4" stroke="#1a0508" stroke-width="1.2" stroke-linecap="butt"/>
<line x1="268.075" y1="282.3" x2="271.675" y2="282.3" stroke="#1a0508" stroke-width="1.2" stroke-linecap="butt"/>
<rect x="266.50" y="287.40" width="6.75" height="25.80" fill="#ad1338"/>
<line x1="276.625" y1="241.2" x2="276.625" y2="252.8" stroke="#000" stroke-width="1.2" stroke-linecap="butt"/>
<line x1="274.825" y1="241.2" x2="278.425" y2="241.2" stroke="#000" stroke-width="1.2" stroke-linecap="butt"/>
<rect x="273.25" y="252.80" width="6.75" height="60.40" fill="#000"/>
<line x1="289.875" y1="304.7" x2="289.875" y2="306.5" stroke="#1a0508" stroke-width="1.2" stroke-linecap="butt"/>
<line x1="288.075" y1="304.7" x2="291.675" y2="304.7" stroke="#1a0508" stroke-width="1.2" stroke-linecap="butt"/>
<rect x="286.50" y="306.50" width="6.75" height="6.70" fill="#ad1338"/>
<line x1="296.625" y1="298" x2="296.625" y2="301.5" stroke="#000" stroke-width="1.2" stroke-linecap="butt"/>
<line x1="294.825" y1="298" x2="298.425" y2="298" stroke="#000" stroke-width="1.2" stroke-linecap="butt"/>
<rect x="293.25" y="301.50" width="6.75" height="11.70" fill="#000"/>
<line x1="243.5" y1="204.6" x2="243.5" y2="313.8" stroke="#000" stroke-width="1.3" stroke-linecap="butt"/>
<line x1="240.0" y1="313.2" x2="302.7" y2="313.2" stroke="#000" stroke-width="1.3" stroke-linecap="butt"/>
<line x1="239.5" y1="206.85" x2="243.5" y2="206.85" stroke="#000" stroke-width="1.1" stroke-linecap="butt"/>
<text x="237.0" y="209.75" font-size="7.9" text-anchor="end" font-weight="normal" fill="#111" stroke="#111" stroke-width="0.22">5000</text>
<line x1="239.5" y1="228.12" x2="243.5" y2="228.12" stroke="#000" stroke-width="1.1" stroke-linecap="butt"/>
<text x="237.0" y="231.02" font-size="7.9" text-anchor="end" font-weight="normal" fill="#111" stroke="#111" stroke-width="0.22">4000</text>
<line x1="239.5" y1="249.39" x2="243.5" y2="249.39" stroke="#000" stroke-width="1.1" stroke-linecap="butt"/>
<text x="237.0" y="252.29" font-size="7.9" text-anchor="end" font-weight="normal" fill="#111" stroke="#111" stroke-width="0.22">3000</text>
<line x1="239.5" y1="270.65999999999997" x2="243.5" y2="270.65999999999997" stroke="#000" stroke-width="1.1" stroke-linecap="butt"/>
<text x="237.0" y="273.55999999999995" font-size="7.9" text-anchor="end" font-weight="normal" fill="#111" stroke="#111" stroke-width="0.22">2000</text>
<line x1="239.5" y1="291.93" x2="243.5" y2="291.93" stroke="#000" stroke-width="1.1" stroke-linecap="butt"/>
<text x="237.0" y="294.83" font-size="7.9" text-anchor="end" font-weight="normal" fill="#111" stroke="#111" stroke-width="0.22">1000</text>
<line x1="239.5" y1="313.2" x2="243.5" y2="313.2" stroke="#000" stroke-width="1.1" stroke-linecap="butt"/>
<text x="237.0" y="316.09999999999997" font-size="7.9" text-anchor="end" font-weight="normal" fill="#111" stroke="#111" stroke-width="0.22">0</text>
<text x="258.1" y="321.3" font-size="8.2" text-anchor="end" font-weight="normal" fill="#111" stroke="#111" stroke-width="0.22" transform="rotate(-45 258.1 321.3)">PBS</text>
<text x="277.7" y="321.3" font-size="8.2" text-anchor="end" font-weight="normal" fill="#111" stroke="#111" stroke-width="0.22" transform="rotate(-45 277.7 321.3)">control Ab</text>
<text x="297.8" y="321.3" font-size="8.2" text-anchor="end" font-weight="normal" fill="#111" stroke="#111" stroke-width="0.22" transform="rotate(-45 297.8 321.3)">anti-CD11b mAb</text>
<text x="269.9" y="282" font-size="9" text-anchor="middle" font-weight="bold" fill="#111" stroke="#111" stroke-width="0.1">*</text>
<text x="276.6" y="240.5" font-size="9" text-anchor="middle" font-weight="bold" fill="#111" stroke="#111" stroke-width="0.1">*</text>
<text x="289.9" y="303.3" font-size="6.5" text-anchor="middle" font-weight="normal" fill="#111" stroke="#111" stroke-width="0.22">§</text>
<text x="296.6" y="295" font-size="6.5" text-anchor="middle" font-weight="normal" fill="#111" stroke="#111" stroke-width="0.22">§</text>
<line x1="259.5" y1="368.2" x2="306.6" y2="368.2" stroke="#000" stroke-width="1.2" stroke-linecap="butt"/>
<text x="282.8" y="379.7" font-size="8.85" text-anchor="middle" font-weight="normal" fill="#111" stroke="#111" stroke-width="0.22">LPS (100 ng/ml)</text>
</g>
<g id="bar3">
<text x="373.3" y="258.7" font-size="9" text-anchor="middle" font-weight="normal" fill="#111" stroke="#111" stroke-width="0.22" transform="rotate(-90 373.3 258.7)">E. coli phagocytosis level</text>
<text x="385.5" y="258.7" font-size="9" text-anchor="middle" font-weight="normal" fill="#111" stroke="#111" stroke-width="0.22" transform="rotate(-90 385.5 258.7)">[RFI]</text>
<line x1="421.0" y1="297.8" x2="421.0" y2="300.8" stroke="#1a0508" stroke-width="1.2" stroke-linecap="butt"/>
<line x1="419.2" y1="297.8" x2="422.8" y2="297.8" stroke="#1a0508" stroke-width="1.2" stroke-linecap="butt"/>
<rect x="417.60" y="300.80" width="6.80" height="12.20" fill="#ad1338"/>
<line x1="427.8" y1="291" x2="427.8" y2="295.5" stroke="#000" stroke-width="1.2" stroke-linecap="butt"/>
<line x1="426.0" y1="291" x2="429.6" y2="291" stroke="#000" stroke-width="1.2" stroke-linecap="butt"/>
<rect x="424.40" y="295.50" width="6.80" height="17.50" fill="#000"/>
<line x1="441.59999999999997" y1="277.2" x2="441.59999999999997" y2="281.6" stroke="#1a0508" stroke-width="1.2" stroke-linecap="butt"/>
<line x1="439.79999999999995" y1="277.2" x2="443.4" y2="277.2" stroke="#1a0508" stroke-width="1.2" stroke-linecap="butt"/>
<rect x="438.20" y="281.60" width="6.80" height="31.40" fill="#ad1338"/>
<line x1="448.4" y1="237.3" x2="448.4" y2="245.4" stroke="#000" stroke-width="1.2" stroke-linecap="butt"/>
<line x1="446.59999999999997" y1="237.3" x2="450.2" y2="237.3" stroke="#000" stroke-width="1.2" stroke-linecap="butt"/>
<rect x="445.00" y="245.40" width="6.80" height="67.60" fill="#000"/>
<line x1="461.9" y1="291" x2="461.9" y2="294.3" stroke="#1a0508" stroke-width="1.2" stroke-linecap="butt"/>
<line x1="460.09999999999997" y1="291" x2="463.7" y2="291" stroke="#1a0508" stroke-width="1.2" stroke-linecap="butt"/>
<rect x="458.50" y="294.30" width="6.80" height="18.70" fill="#ad1338"/>
<line x1="468.7" y1="269.6" x2="468.7" y2="277.7" stroke="#000" stroke-width="1.2" stroke-linecap="butt"/>
<line x1="466.9" y1="269.6" x2="470.5" y2="269.6" stroke="#000" stroke-width="1.2" stroke-linecap="butt"/>
<rect x="465.30" y="277.70" width="6.80" height="35.30" fill="#000"/>
<line x1="415" y1="204.6" x2="415" y2="313.6" stroke="#000" stroke-width="1.3" stroke-linecap="butt"/>
<line x1="411.5" y1="313" x2="475" y2="313" stroke="#000" stroke-width="1.3" stroke-linecap="butt"/>
<line x1="411" y1="206.5" x2="415" y2="206.5" stroke="#000" stroke-width="1.1" stroke-linecap="butt"/>
<text x="408.5" y="209.4" font-size="7.9" text-anchor="end" font-weight="normal" fill="#111" stroke="#111" stroke-width="0.22">5000</text>
<line x1="411" y1="227.8" x2="415" y2="227.8" stroke="#000" stroke-width="1.1" stroke-linecap="butt"/>
<text x="408.5" y="230.70000000000002" font-size="7.9" text-anchor="end" font-weight="normal" fill="#111" stroke="#111" stroke-width="0.22">4000</text>
<line x1="411" y1="249.1" x2="415" y2="249.1" stroke="#000" stroke-width="1.1" stroke-linecap="butt"/>
<text x="408.5" y="252.0" font-size="7.9" text-anchor="end" font-weight="normal" fill="#111" stroke="#111" stroke-width="0.22">3000</text>
<line x1="411" y1="270.4" x2="415" y2="270.4" stroke="#000" stroke-width="1.1" stroke-linecap="butt"/>
<text x="408.5" y="273.29999999999995" font-size="7.9" text-anchor="end" font-weight="normal" fill="#111" stroke="#111" stroke-width="0.22">2000</text>
<line x1="411" y1="291.7" x2="415" y2="291.7" stroke="#000" stroke-width="1.1" stroke-linecap="butt"/>
<text x="408.5" y="294.59999999999997" font-size="7.9" text-anchor="end" font-weight="normal" fill="#111" stroke="#111" stroke-width="0.22">1000</text>
<line x1="411" y1="313.0" x2="415" y2="313.0" stroke="#000" stroke-width="1.1" stroke-linecap="butt"/>
<text x="408.5" y="315.9" font-size="7.9" text-anchor="end" font-weight="normal" fill="#111" stroke="#111" stroke-width="0.22">0</text>
<text x="429.3" y="321.3" font-size="8.2" text-anchor="end" font-weight="normal" fill="#111" stroke="#111" stroke-width="0.22" transform="rotate(-45 429.3 321.3)">PBS</text>
<text x="448.9" y="321.3" font-size="8.2" text-anchor="end" font-weight="normal" fill="#111" stroke="#111" stroke-width="0.22" transform="rotate(-45 448.9 321.3)">vehicle</text>
<text x="469.9" y="321.3" font-size="8.2" text-anchor="end" font-weight="normal" fill="#111" stroke="#111" stroke-width="0.22" transform="rotate(-45 469.9 321.3)">BAY 61-3606</text>
<text x="441.6" y="277" font-size="9" text-anchor="middle" font-weight="bold" fill="#111" stroke="#111" stroke-width="0.1">*</text>
<text x="448.4" y="237" font-size="9" text-anchor="middle" font-weight="bold" fill="#111" stroke="#111" stroke-width="0.1">*</text>
<text x="461.5" y="290" font-size="7" text-anchor="middle" font-weight="normal" fill="#111" stroke="#111" stroke-width="0.22">*§</text>
<text x="469" y="267" font-size="7" text-anchor="middle" font-weight="normal" fill="#111" stroke="#111" stroke-width="0.22">*§</text>
<line x1="431.2" y1="368" x2="478.8" y2="368" stroke="#000" stroke-width="1.2" stroke-linecap="butt"/>
<text x="455" y="380" font-size="8.85" text-anchor="middle" font-weight="normal" fill="#111" stroke="#111" stroke-width="0.22">LPS (100 ng/ml)</text>
</g>
<g id="barB">
<text x="28.6" y="474.3" font-size="9" text-anchor="middle" font-weight="normal" fill="#111" stroke="#111" stroke-width="0.22" transform="rotate(-90 28.6 474.3)">E. coli phagocytosis level</text>
<text x="40.4" y="474.3" font-size="9" text-anchor="middle" font-weight="normal" fill="#111" stroke="#111" stroke-width="0.22" transform="rotate(-90 40.4 474.3)">[RFI]</text>
<line x1="78.45" y1="510.3" x2="78.45" y2="513.5" stroke="#1a0508" stroke-width="1.2" stroke-linecap="butt"/>
<line x1="76.65" y1="510.3" x2="80.25" y2="510.3" stroke="#1a0508" stroke-width="1.2" stroke-linecap="butt"/>
<rect x="75.00" y="513.50" width="6.90" height="20.60" fill="#ad1338"/>
<line x1="85.35" y1="501.5" x2="85.35" y2="506.6" stroke="#000" stroke-width="1.2" stroke-linecap="butt"/>
<line x1="83.55" y1="501.5" x2="87.14999999999999" y2="501.5" stroke="#000" stroke-width="1.2" stroke-linecap="butt"/>
<rect x="81.90" y="506.60" width="6.90" height="27.50" fill="#000"/>
<line x1="98.45" y1="499.7" x2="98.45" y2="503.2" stroke="#1a0508" stroke-width="1.2" stroke-linecap="butt"/>
<line x1="96.65" y1="499.7" x2="100.25" y2="499.7" stroke="#1a0508" stroke-width="1.2" stroke-linecap="butt"/>
<rect x="95.00" y="503.20" width="6.90" height="30.90" fill="#ad1338"/>
<line x1="105.35" y1="474.5" x2="105.35" y2="484.2" stroke="#000" stroke-width="1.2" stroke-linecap="butt"/>
<line x1="103.55" y1="474.5" x2="107.14999999999999" y2="474.5" stroke="#000" stroke-width="1.2" stroke-linecap="butt"/>
<rect x="101.90" y="484.20" width="6.90" height="49.90" fill="#000"/>
<line x1="118.85000000000001" y1="494.2" x2="118.85000000000001" y2="498.8" stroke="#1a0508" stroke-width="1.2" stroke-linecap="butt"/>
<line x1="117.05000000000001" y1="494.2" x2="120.65" y2="494.2" stroke="#1a0508" stroke-width="1.2" stroke-linecap="butt"/>
<rect x="115.40" y="498.80" width="6.90" height="35.30" fill="#ad1338"/>
<line x1="125.75" y1="443.8" x2="125.75" y2="456" stroke="#000" stroke-width="1.2" stroke-linecap="butt"/>
<line x1="123.95" y1="443.8" x2="127.55" y2="443.8" stroke="#000" stroke-width="1.2" stroke-linecap="butt"/>
<rect x="122.30" y="456.00" width="6.90" height="78.10" fill="#000"/>
<line x1="139.14999999999998" y1="499.7" x2="139.14999999999998" y2="505" stroke="#1a0508" stroke-width="1.2" stroke-linecap="butt"/>
<line x1="137.34999999999997" y1="499.7" x2="140.95" y2="499.7" stroke="#1a0508" stroke-width="1.2" stroke-linecap="butt"/>
<rect x="135.70" y="505.00" width="6.90" height="29.10" fill="#ad1338"/>
<line x1="146.04999999999998" y1="468.5" x2="146.04999999999998" y2="478.5" stroke="#000" stroke-width="1.2" stroke-linecap="butt"/>
<line x1="144.24999999999997" y1="468.5" x2="147.85" y2="468.5" stroke="#000" stroke-width="1.2" stroke-linecap="butt"/>
<rect x="142.60" y="478.50" width="6.90" height="55.60" fill="#000"/>
<line x1="159.25" y1="499.7" x2="159.25" y2="509" stroke="#1a0508" stroke-width="1.2" stroke-linecap="butt"/>
<line x1="157.45" y1="499.7" x2="161.05" y2="499.7" stroke="#1a0508" stroke-width="1.2" stroke-linecap="butt"/>
<rect x="155.80" y="509.00" width="6.90" height="25.10" fill="#ad1338"/>
<line x1="166.15" y1="498.5" x2="166.15" y2="507.3" stroke="#000" stroke-width="1.2" stroke-linecap="butt"/>
<line x1="164.35" y1="498.5" x2="167.95000000000002" y2="498.5" stroke="#000" stroke-width="1.2" stroke-linecap="butt"/>
<rect x="162.70" y="507.30" width="6.90" height="26.80" fill="#000"/>
<line x1="69.9" y1="415" x2="69.9" y2="534.7" stroke="#000" stroke-width="1.3" stroke-linecap="butt"/>
<line x1="66.4" y1="534.1" x2="175" y2="534.1" stroke="#000" stroke-width="1.3" stroke-linecap="butt"/>
<line x1="65.9" y1="417.38" x2="69.9" y2="417.38" stroke="#000" stroke-width="1.1" stroke-linecap="butt"/>
<text x="63.400000000000006" y="420.28" font-size="7.9" text-anchor="end" font-weight="normal" fill="#111" stroke="#111" stroke-width="0.22">1400</text>
<line x1="65.9" y1="434.03999999999996" x2="69.9" y2="434.03999999999996" stroke="#000" stroke-width="1.1" stroke-linecap="butt"/>
<text x="63.400000000000006" y="436.93999999999994" font-size="7.9" text-anchor="end" font-weight="normal" fill="#111" stroke="#111" stroke-width="0.22">1200</text>
<line x1="65.9" y1="450.7" x2="69.9" y2="450.7" stroke="#000" stroke-width="1.1" stroke-linecap="butt"/>
<text x="63.400000000000006" y="453.59999999999997" font-size="7.9" text-anchor="end" font-weight="normal" fill="#111" stroke="#111" stroke-width="0.22">1000</text>
<line x1="65.9" y1="467.36" x2="69.9" y2="467.36" stroke="#000" stroke-width="1.1" stroke-linecap="butt"/>
<text x="63.400000000000006" y="470.26" font-size="7.9" text-anchor="end" font-weight="normal" fill="#111" stroke="#111" stroke-width="0.22">800</text>
<line x1="65.9" y1="484.02" x2="69.9" y2="484.02" stroke="#000" stroke-width="1.1" stroke-linecap="butt"/>
<text x="63.400000000000006" y="486.91999999999996" font-size="7.9" text-anchor="end" font-weight="normal" fill="#111" stroke="#111" stroke-width="0.22">600</text>
<line x1="65.9" y1="500.68" x2="69.9" y2="500.68" stroke="#000" stroke-width="1.1" stroke-linecap="butt"/>
<text x="63.400000000000006" y="503.58" font-size="7.9" text-anchor="end" font-weight="normal" fill="#111" stroke="#111" stroke-width="0.22">400</text>
<line x1="65.9" y1="517.34" x2="69.9" y2="517.34" stroke="#000" stroke-width="1.1" stroke-linecap="butt"/>
<text x="63.400000000000006" y="520.24" font-size="7.9" text-anchor="end" font-weight="normal" fill="#111" stroke="#111" stroke-width="0.22">200</text>
<text x="85.1" y="541.3" font-size="8.3" text-anchor="end" font-weight="normal" fill="#111" stroke="#111" stroke-width="0.22" transform="rotate(-45 85.1 541.3)">Blood</text>
<text x="105.3" y="541.3" font-size="8.3" text-anchor="end" font-weight="normal" fill="#111" stroke="#111" stroke-width="0.22" transform="rotate(-45 105.3 541.3)">Kidney</text>
<text x="125.5" y="541.3" font-size="8.3" text-anchor="end" font-weight="normal" fill="#111" stroke="#111" stroke-width="0.22" transform="rotate(-45 125.5 541.3)">Liver</text>
<text x="145.7" y="541.3" font-size="8.3" text-anchor="end" font-weight="normal" fill="#111" stroke="#111" stroke-width="0.22" transform="rotate(-45 145.7 541.3)">Lung</text>
<text x="165.9" y="541.3" font-size="8.3" text-anchor="end" font-weight="normal" fill="#111" stroke="#111" stroke-width="0.22" transform="rotate(-45 165.9 541.3)">Spleen</text>
<text x="105.6" y="471.5" font-size="6.4" text-anchor="middle" font-weight="normal" fill="#222" stroke="#222" stroke-width="0" font-style="italic">#</text>
<text x="125.9" y="440.6" font-size="6.4" text-anchor="middle" font-weight="normal" fill="#222" stroke="#222" stroke-width="0" font-style="italic">#</text>
<text x="146" y="465.4" font-size="6.4" text-anchor="middle" font-weight="normal" fill="#222" stroke="#222" stroke-width="0" font-style="italic">#</text>
<rect x="75.70" y="417.20" width="15.50" height="3.60" fill="#ad1338"/>
<rect x="75.70" y="427.20" width="15.50" height="3.80" fill="#000"/>
<text x="94.6" y="421.2" font-size="7.8" text-anchor="start" font-weight="normal" fill="#111" stroke="#111" stroke-width="0.22">non-aged neutrophils</text>
<text x="94.6" y="431.2" font-size="7.8" text-anchor="start" font-weight="normal" fill="#111" stroke="#111" stroke-width="0.22">aged neutrophils</text>
</g>
<path d="M0 0H520V567H0Z M1.1 1.05V565.2H518.3V1.05Z" fill="#000" fill-rule="evenodd"/>
</svg></body></html>
